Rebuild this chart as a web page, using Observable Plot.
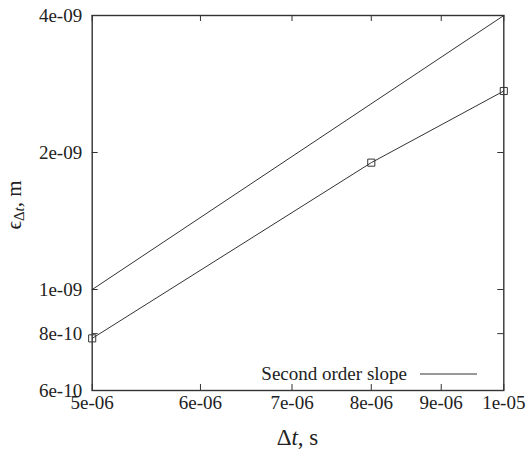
<!DOCTYPE html>
<html>
<head>
<meta charset="utf-8">
<script src="https://cdn.jsdelivr.net/npm/d3@7"></script>
<script src="https://cdn.jsdelivr.net/npm/@observablehq/plot@0.6"></script>
<style>
  html, body { margin: 0; padding: 0; background: #fff; }
</style>
</head>
<body>
<div id="chart"></div>
<script>
// ---- data ----
const dt = [5e-6, 8e-6, 1e-5];
const err = [7.81e-10, 1.90e-9, 2.73e-9];
const slopeDt = [5e-6, 1e-5];
const slopeErr = [1e-9, 4e-9];
const xTicks = [5e-6, 6e-6, 7e-6, 8e-6, 9e-6, 1e-5];
const xTickLabels = ["5e-06", "6e-06", "7e-06", "8e-06", "9e-06", "1e-05"];
const yTicks = [6e-10, 8e-10, 1e-9, 2e-9, 4e-9];
const yTickLabels = ["6e-10", "8e-10", "1e-09", "2e-09", "4e-09"];
const legendLabel = "Second order slope";

const points = dt.map((d, i) => ({x: d, y: err[i]}));
const slope = slopeDt.map((d, i) => ({x: d, y: slopeErr[i]}));
const xTickData = xTicks.map((d, i) => ({v: d, label: xTickLabels[i]}));
const yTickData = yTicks.map((d, i) => ({v: d, label: yTickLabels[i]}));

const W = 528, H = 451;
const mL = 91.7, mR = 24.7, mT = 15, mB = 61;
const pw = W - mL - mR, ph = H - mT - mB;
const ink = "#333";
const font = "'Liberation Serif', 'Times New Roman', serif";

const chart = Plot.plot({
  width: W, height: H,
  marginLeft: mL, marginRight: mR, marginTop: mT, marginBottom: mB,
  style: {fontSize: "19px", color: "#222", background: "white", overflow: "visible"},
  x: {type: "log", domain: [5e-6, 1e-5], axis: null},
  y: {type: "log", domain: [6e-10, 4e-9], axis: null},
  marks: [
    Plot.frame({stroke: ink, strokeWidth: 1.4}),
    // inward ticks (bottom/top, left/right)
    Plot.tickX(xTickData, {x: "v", insetTop: ph - 6, stroke: ink}),
    Plot.tickX(xTickData, {x: "v", insetBottom: ph - 6, stroke: ink}),
    Plot.tickY(yTickData, {y: "v", insetRight: pw - 6, stroke: ink}),
    Plot.tickY(yTickData, {y: "v", insetLeft: pw - 6, stroke: ink}),
    // tick labels
    Plot.text(xTickData, {x: "v", frameAnchor: "bottom", text: "label", lineAnchor: "top",
      dy: 5, fontSize: 19, fill: "#222"}),
    Plot.text(yTickData, {y: "v", frameAnchor: "left", text: "label", textAnchor: "end",
      dx: -10, fontSize: 19, fill: "#222"}),
    Plot.line(slope, {x: "x", y: "y", stroke: ink, strokeWidth: 1}),
    Plot.line(points, {x: "x", y: "y", stroke: ink, strokeWidth: 1}),
    Plot.dot(points, {x: "x", y: "y", symbol: "square", r: 4, stroke: ink, strokeWidth: 1, fill: "none"})
  ]
});

const svg = d3.select(chart);
// x label
const xl = svg.append("text")
  .attr("x", mL + pw / 2).attr("y", 445)
  .attr("text-anchor", "middle")
  .attr("font-size", 23).attr("fill", "#222");
xl.append("tspan").text("Δ");
xl.append("tspan").attr("font-style", "italic").text("t");
xl.append("tspan").text(", s");

// y label
const yl = svg.append("text")
  .attr("transform", `translate(21,205) rotate(-90)`)
  .attr("text-anchor", "middle")
  .attr("font-size", 21).attr("fill", "#222");
yl.append("tspan").text("ϵ");
yl.append("tspan").attr("font-size", 15).attr("dy", 3).text("Δ");
yl.append("tspan").attr("font-size", 15).attr("font-style", "italic").text("t");
yl.append("tspan").attr("dy", -3).text(", m");

// legend
const lg = svg.append("g");
lg.append("text").attr("x", 407).attr("y", 380).attr("text-anchor", "end")
  .attr("font-size", 19).attr("fill", "#222").text(legendLabel);
lg.append("line").attr("x1", 420).attr("x2", 477).attr("y1", 374).attr("y2", 374)
  .attr("stroke", ink).attr("stroke-width", 1);

// force a serif face on every text
svg.style("font-family", font);
svg.selectAll("text, tspan, g").style("font-family", font);

document.getElementById("chart").appendChild(chart);
</script>
</body>
</html>
